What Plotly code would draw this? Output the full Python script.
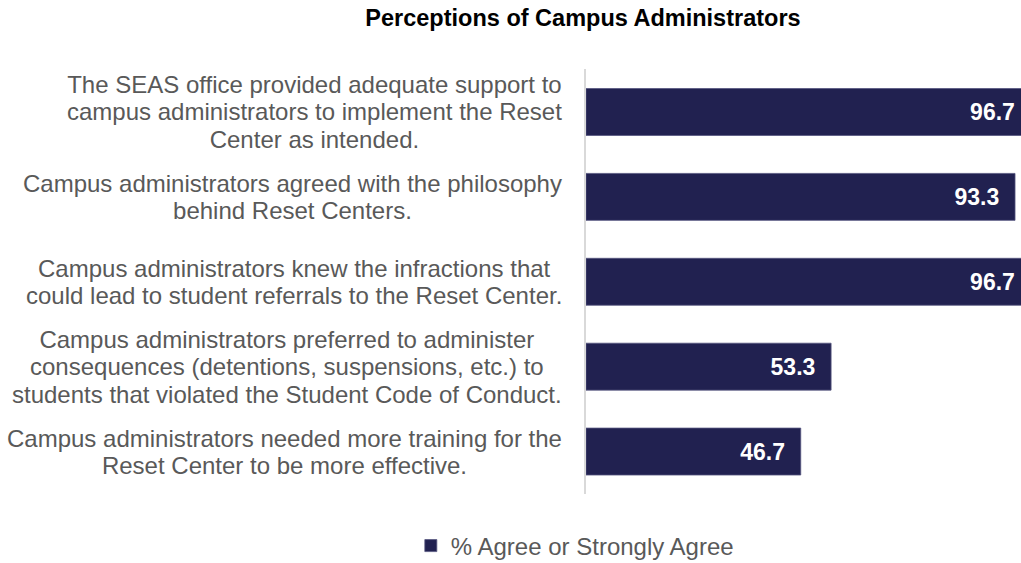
import plotly.graph_objects as go

# ---- data ----
categories = [
    "The SEAS office provided adequate support to<br>campus administrators to implement the Reset<br>Center as intended.",
    "Campus administrators agreed with the philosophy<br>behind Reset Centers.",
    "Campus administrators knew the infractions that<br>could lead to student referrals to the Reset Center.",
    "Campus administrators preferred to administer<br>consequences (detentions, suspensions, etc.) to<br>students that violated the Student Code of Conduct.",
    "Campus administrators needed more training for the<br>Reset Center to be more effective.",
]
values = [96.7, 93.3, 96.7, 53.3, 46.7]
series_name = "% Agree or Strongly Agree"
title_text = "Perceptions of Campus Administrators"

FONT = "Liberation Sans, Arial, sans-serif"
BAR = "#212150"

fig = go.Figure()
fig.add_trace(go.Bar(
    y=categories,
    x=values,
    orientation="h",
    name=series_name,
    marker=dict(color=BAR, line=dict(color="#55557f", width=0.8)),
    text=[f"<b>{v:.1f}</b>&nbsp;&nbsp;" for v in values],
    textposition="inside",
    insidetextanchor="end",
    textfont=dict(family=FONT, size=23, color="white"),
    hoverinfo="skip",
))

for c in categories:
    # line spacing from the 21px base font, glyphs drawn at 24px
    styled = "<br>".join(f'<span style="font-size:24px">{ln}</span>' for ln in c.split("<br>"))
    fig.add_annotation(
        x=0, xref="paper", y=c, yref="y",
        xanchor="right", yanchor="middle", xshift=-22,
        text=styled, showarrow=False, align="center",
        font=dict(family=FONT, size=21, color="#595959"),
    )

fig.update_layout(
    width=1021, height=563,
    margin=dict(l=586, r=0, t=69, b=69, autoexpand=False),
    paper_bgcolor="white", plot_bgcolor="white",
    bargap=0.447,
    title=dict(text=f"<b>{title_text}</b>", x=0.571, xref="container", xanchor="center",
               y=1 - 18 / 563, yref="container", yanchor="middle",
               font=dict(family=FONT, size=23.5, color="#000000")),
    showlegend=True,
    legend=dict(orientation="h", xref="container", x=0.563, xanchor="center",
                yref="container", y=1 - 546 / 563, yanchor="middle",
                font=dict(family=FONT, size=24, color="#595959"),
                itemwidth=30, bgcolor="rgba(0,0,0,0)"),
)
fig.update_xaxes(range=[0, 94.6], visible=False, fixedrange=True)
fig.update_yaxes(autorange="reversed", showticklabels=False, showgrid=False,
                 showline=True, linecolor="#d9d9d9", linewidth=1.5, ticks="",
                 zeroline=False, fixedrange=True)

fig.write_html("out.html")
